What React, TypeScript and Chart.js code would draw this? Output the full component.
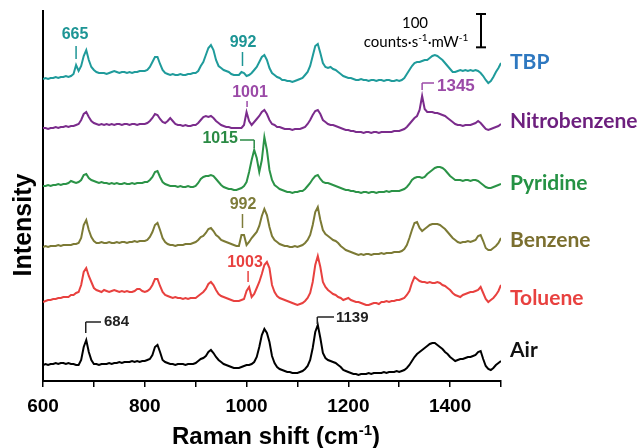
import React, { useEffect, useRef } from 'react';
import { Chart, registerables } from 'chart.js';

Chart.register(...registerables);

// Raman shift sampling grid (cm-1)
const WAVENUMBERS = [
  600, 605, 610, 615, 620, 625, 630, 635, 640, 645,
  650, 655, 660, 665, 670, 675, 680, 685, 690, 695,
  700, 705, 710, 715, 720, 725, 730, 735, 740, 745,
  750, 755, 760, 765, 770, 775, 780, 785, 790, 795,
  800, 805, 810, 815, 820, 825, 830, 835, 840, 845,
  850, 855, 860, 865, 870, 875, 880, 885, 890, 895,
  900, 905, 910, 915, 920, 925, 930, 935, 940, 945,
  950, 955, 960, 965, 970, 975, 980, 985, 990, 995,
  1000, 1005, 1010, 1015, 1020, 1025, 1030, 1035, 1040, 1045,
  1050, 1055, 1060, 1065, 1070, 1075, 1080, 1085, 1090, 1095,
  1100, 1105, 1110, 1115, 1120, 1125, 1130, 1135, 1140, 1145,
  1150, 1155, 1160, 1165, 1170, 1175, 1180, 1185, 1190, 1195,
  1200, 1205, 1210, 1215, 1220, 1225, 1230, 1235, 1240, 1245,
  1250, 1255, 1260, 1265, 1270, 1275, 1280, 1285, 1290, 1295,
  1300, 1305, 1310, 1315, 1320, 1325, 1330, 1335, 1340, 1345,
  1350, 1355, 1360, 1365, 1370, 1375, 1380, 1385, 1390, 1395,
  1400, 1405, 1410, 1415, 1420, 1425, 1430, 1435, 1440, 1445,
  1450, 1455, 1460, 1465, 1470, 1475, 1480, 1485, 1490, 1495,
  1500,
];

// Spectra, counts·s-1·mW-1 above each trace's own offset
const TBP = [
  3, 6, 3, 6, 6, 9, 6, 9, 9, 12,
  9, 12, 18, 45, 27, 42, 72, 90, 60, 39,
  30, 24, 21, 21, 21, 18, 21, 24, 27, 24,
  21, 24, 24, 21, 24, 21, 24, 24, 27, 27,
  27, 30, 39, 54, 69, 69, 48, 30, 21, 18,
  15, 18, 15, 15, 18, 15, 15, 18, 18, 21,
  21, 27, 42, 54, 75, 96, 105, 90, 60, 42,
  36, 30, 27, 24, 18, 15, 15, 15, 24, 21,
  12, 15, 21, 30, 39, 54, 69, 75, 60, 36,
  21, 15, 9, 6, 0, 0, -3, -3, -6, -3,
  0, 3, 6, 15, 24, 42, 72, 102, 108, 81,
  51, 39, 36, 39, 33, 30, 24, 18, 12, 9,
  6, 6, 3, 0, 0, 3, 0, 0, -3, 0,
  0, -3, 0, 0, -3, 0, 0, -3, -3, 0,
  -3, 0, 6, 18, 30, 42, 51, 54, 54, 57,
  60, 60, 66, 72, 75, 72, 66, 60, 51, 42,
  33, 24, 24, 27, 30, 27, 30, 27, 30, 27,
  30, 27, 21, 12, 0, -9, -3, 9, 24, 36,
  51,
];

const NITROBENZENE = [
  6, 6, 3, 6, 6, 9, 6, 9, 9, 12,
  9, 12, 12, 15, 18, 30, 48, 54, 39, 27,
  21, 18, 15, 18, 15, 18, 15, 18, 15, 18,
  18, 15, 18, 18, 15, 18, 18, 15, 18, 18,
  18, 21, 27, 36, 48, 45, 33, 24, 21, 27,
  36, 27, 18, 15, 15, 12, 15, 12, 12, 15,
  15, 21, 30, 39, 42, 39, 42, 36, 27, 21,
  15, 12, 9, 9, 6, 6, 6, 6, 6, 15,
  54, 27, 15, 24, 33, 42, 54, 60, 48, 30,
  18, 15, 9, 9, 6, 3, 3, 3, 0, 3,
  3, 3, 6, 9, 18, 30, 45, 57, 60, 48,
  30, 24, 18, 15, 15, 12, 9, 6, 3, 0,
  0, -3, -3, -6, -6, -6, -9, -6, -6, -9,
  -6, -6, -9, -6, -6, -6, -6, -6, -3, -3,
  -3, 0, 3, 9, 18, 27, 36, 42, 60, 102,
  63, 54, 54, 54, 51, 51, 48, 45, 42, 36,
  30, 24, 18, 15, 15, 12, 15, 15, 15, 18,
  21, 27, 21, 12, 3, 0, 3, 6, 9, 12,
  18,
];

const PYRIDINE = [
  12, 12, 15, 12, 15, 15, 18, 15, 18, 18,
  21, 27, 24, 21, 24, 30, 45, 48, 36, 30,
  27, 24, 21, 24, 21, 21, 18, 21, 18, 21,
  18, 18, 21, 18, 18, 21, 18, 21, 21, 21,
  24, 24, 30, 39, 54, 57, 39, 24, 18, 15,
  12, 12, 12, 9, 12, 9, 9, 12, 9, 9,
  12, 21, 33, 39, 42, 42, 45, 42, 33, 24,
  15, 9, 6, 3, 3, 0, 0, 3, 6, 12,
  24, 54, 90, 120, 96, 54, 90, 159, 120, 60,
  30, 15, 9, 3, 0, -3, -6, -6, -9, -6,
  -6, -3, -3, 3, 12, 21, 33, 42, 45, 33,
  24, 21, 21, 18, 15, 12, 9, 6, 3, 0,
  0, -3, -3, -6, -6, -9, -6, -6, -9, -6,
  -6, -9, -6, -6, -6, -3, -6, -3, -3, -3,
  -3, 0, 3, 9, 18, 30, 36, 39, 39, 36,
  39, 48, 54, 60, 66, 69, 69, 66, 60, 51,
  42, 36, 30, 30, 30, 27, 30, 30, 27, 30,
  30, 27, 21, 15, 9, 6, 6, 9, 12, 15,
  18,
];

const BENZENE = [
  9, 12, 9, 12, 12, 12, 15, 12, 15, 15,
  15, 15, 18, 18, 21, 36, 75, 90, 60, 39,
  27, 21, 21, 24, 21, 21, 24, 21, 21, 24,
  21, 24, 24, 21, 24, 24, 27, 24, 27, 27,
  27, 30, 39, 54, 75, 81, 60, 36, 24, 18,
  15, 15, 12, 15, 15, 15, 18, 18, 18, 21,
  24, 30, 39, 42, 51, 63, 66, 57, 45, 39,
  30, 27, 24, 21, 18, 15, 12, 12, 45, 45,
  15, 24, 36, 45, 54, 72, 102, 123, 105, 69,
  42, 30, 24, 18, 15, 12, 12, 9, 9, 12,
  9, 12, 15, 21, 30, 45, 75, 114, 129, 90,
  60, 48, 42, 36, 30, 27, 21, 12, 6, 0,
  -3, -6, -9, -12, -15, -12, -15, -12, -12, -15,
  -12, -12, -12, -9, -12, -9, -9, -9, -6, -6,
  -6, -3, 3, 15, 36, 60, 81, 84, 66, 57,
  63, 69, 75, 78, 78, 78, 75, 69, 63, 54,
  45, 36, 30, 24, 21, 24, 24, 27, 24, 27,
  30, 42, 45, 27, 6, 0, 0, 6, 12, 21,
  36,
];

const TOLUENE = [
  -6, -3, 0, 0, 3, 3, 6, 6, 9, 9,
  9, 15, 15, 21, 24, 45, 84, 96, 72, 54,
  36, 30, 27, 24, 30, 27, 24, 27, 30, 27,
  24, 27, 24, 27, 24, 24, 27, 33, 33, 27,
  24, 27, 33, 45, 63, 63, 42, 24, 15, 12,
  9, 6, 9, 6, 6, 3, 6, 3, 6, 6,
  6, 12, 18, 24, 33, 48, 54, 45, 30, 18,
  12, 9, 6, 3, 0, -3, -3, -3, 0, 3,
  27, 39, 9, 18, 36, 54, 78, 105, 114, 96,
  45, 24, 12, 6, 3, 0, -3, -6, -9, -12,
  -15, -12, -9, -3, 6, 21, 54, 105, 132, 99,
  54, 39, 30, 24, 18, 15, 9, 6, 0, 3,
  6, 0, -3, -6, -6, -9, -12, -15, -15, -12,
  -9, -9, -12, -6, -6, -3, -6, -3, -3, 0,
  0, 3, 6, 15, 27, 51, 69, 63, 57, 54,
  54, 51, 54, 51, 51, 54, 51, 45, 42, 36,
  30, 21, 15, 12, 9, 15, 18, 21, 24, 24,
  27, 30, 39, 21, 3, -6, 0, 6, 15, 27,
  45,
];

const AIR = [
  15, 18, 15, 18, 18, 21, 18, 21, 21, 18,
  21, 18, 18, 15, 15, 30, 69, 90, 54, 30,
  18, 18, 15, 18, 18, 18, 21, 18, 21, 21,
  24, 21, 24, 24, 24, 27, 24, 27, 24, 27,
  27, 30, 33, 45, 69, 75, 54, 30, 24, 21,
  18, 18, 15, 18, 18, 18, 15, 18, 18, 18,
  21, 27, 33, 36, 42, 54, 60, 51, 39, 30,
  24, 18, 15, 12, 9, 6, 6, 6, 9, 12,
  15, 15, 18, 24, 39, 69, 105, 123, 111, 84,
  42, 21, 9, 3, 0, -3, -6, -6, -9, -9,
  -9, -6, -3, 3, 12, 30, 66, 114, 135, 96,
  51, 36, 30, 27, 24, 21, 15, 9, 0, -3,
  -6, -9, -12, -12, -15, -12, -12, -12, -9, -12,
  -9, -9, -9, -9, -6, -9, -6, -6, -6, -3,
  -6, -3, 0, 6, 15, 27, 39, 48, 54, 60,
  66, 72, 78, 81, 81, 75, 69, 63, 54, 48,
  39, 33, 27, 30, 33, 33, 36, 39, 39, 42,
  45, 54, 57, 33, 12, 3, 0, 6, 15, 21,
  27,
];

const SERIES_NAMES = ['TBP', 'Nitrobenzene', 'Pyridine', 'Benzene', 'Toluene', 'Air'];
const SERIES_VALUES = [TBP, NITROBENZENE, PYRIDINE, BENZENE, TOLUENE, AIR];
const SERIES_OFFSETS = [903, 753, 573, 393, 243, 33];

const X_MIN = 600;
const X_MAX = 1500;
const X_TICK_STEP = 100;
const X_LABEL_STEP = 200;
const Y_MIN = 0;
const Y_MAX = 1110;
const SCALE_BAR_COUNTS = 100;

// ---- styles / layout ----
const LINE_COLORS = ['#1f9b9b', '#7b2c8c', '#2b9347', '#7c7a35', '#e8413f', '#000000'];
const NAME_COLORS = ['#2e78c0', '#6d1f7e', '#259244', '#7b6f2f', '#e8413f', '#111111'];
const NAME_Y = [62, 121, 183, 240, 298, 350];
const NAME_X = 510;

const SANS = '"Liberation Sans", Arial, sans-serif';
const CAL = 'Lato, "Liberation Sans", sans-serif';

type Note = {
  label: string;
  wn: number;
  color: string;
  kind: 'tick' | 'bracket';
  textX: number;
  textY: number;
  y1?: number;
  y2?: number;
  cornerY?: number;
  endY?: number;
  armX?: number;
  align?: CanvasTextAlign;
  size?: number;
};

const PEAK_NOTES: Note[] = [
  { label: '665', wn: 665, color: '#1d9595', kind: 'tick', textX: 75, textY: 35, y1: 46, y2: 59 },
  { label: '992', wn: 992, color: '#1d9595', kind: 'tick', textX: 243, textY: 43, y1: 52, y2: 66 },
  { label: '1001', wn: 1001, color: '#9b4aa7', kind: 'tick', textX: 250, textY: 93, y1: 101, y2: 107 },
  { label: '1015', wn: 1015, color: '#2a8a44', kind: 'bracket', textX: 238, textY: 139, cornerY: 140, endY: 148, armX: 240, align: 'right' },
  { label: '992', wn: 992, color: '#7e7c3a', kind: 'tick', textX: 243, textY: 205, y1: 214, y2: 228 },
  { label: '1003', wn: 1003, color: '#e8413f', kind: 'tick', textX: 245, textY: 263, y1: 271, y2: 282 },
  { label: '684', wn: 684, color: '#222222', kind: 'bracket', textX: 104, textY: 322, cornerY: 322, endY: 333, armX: 101, align: 'left', size: 15 },
  { label: '1139', wn: 1139, color: '#222222', kind: 'bracket', textX: 336, textY: 318, cornerY: 317, endY: 324, armX: 334, align: 'left', size: 15 },
  { label: '1345', wn: 1345, color: '#9b4aa7', kind: 'bracket', textX: 437, textY: 86, cornerY: 83, endY: 90, armX: 434, align: 'left', size: 17 },
];

type Part = { text: string; font: string; dy?: number };

function drawRich(ctx: CanvasRenderingContext2D, parts: Part[], x: number, y: number, align: 'left' | 'center' | 'right') {
  let total = 0;
  for (const p of parts) {
    ctx.font = p.font;
    total += ctx.measureText(p.text).width;
  }
  let cx = align === 'center' ? x - total / 2 : align === 'right' ? x - total : x;
  ctx.textAlign = 'left';
  for (const p of parts) {
    ctx.font = p.font;
    ctx.fillText(p.text, cx, y + (p.dy || 0));
    cx += ctx.measureText(p.text).width;
  }
}

function line(ctx: CanvasRenderingContext2D, x1: number, y1: number, x2: number, y2: number) {
  ctx.beginPath();
  ctx.moveTo(x1, y1);
  ctx.lineTo(x2, y2);
  ctx.stroke();
}

const overlayPlugin = {
  id: 'ramanOverlay',
  afterDraw(chart: any) {
    const ctx: CanvasRenderingContext2D = chart.ctx;
    const xs = chart.scales.x;
    const ys = chart.scales.y;

    // y-axis title
    ctx.save();
    ctx.fillStyle = '#000';
    ctx.font = `bold 25px ${SANS}`;
    ctx.translate(31, 225);
    ctx.rotate(-Math.PI / 2);
    ctx.textAlign = 'center';
    ctx.textBaseline = 'alphabetic';
    ctx.fillText('Intensity', 0, 0);
    ctx.restore();

    // x-axis title
    ctx.save();
    ctx.fillStyle = '#000';
    ctx.textBaseline = 'alphabetic';
    drawRich(ctx, [
      { text: 'Raman shift (cm', font: `bold 24px ${SANS}` },
      { text: '-1', font: `bold 15px ${SANS}`, dy: -9 },
      { text: ')', font: `bold 24px ${SANS}` },
    ], 276, 444, 'center');
    ctx.restore();

    // series names
    ctx.save();
    ctx.textAlign = 'left';
    ctx.textBaseline = 'middle';
    ctx.font = `bold 21px ${CAL}`;
    SERIES_NAMES.forEach((n, i) => {
      ctx.fillStyle = NAME_COLORS[i];
      ctx.fillText(n, NAME_X, NAME_Y[i]);
    });
    ctx.restore();

    // peak annotations
    ctx.save();
    ctx.lineWidth = 1.5;
    ctx.textBaseline = 'middle';
    for (const n of PEAK_NOTES) {
      const px = xs.getPixelForValue(n.wn);
      ctx.strokeStyle = n.color;
      ctx.fillStyle = n.color;
      ctx.font = `bold ${n.size || 16}px ${SANS}`;
      if (n.kind === 'tick') {
        line(ctx, px, n.y1!, px, n.y2!);
        ctx.textAlign = 'center';
        ctx.fillText(n.label, n.textX, n.textY);
      } else {
        line(ctx, px, n.endY!, px, n.cornerY!);
        line(ctx, px, n.cornerY!, n.armX!, n.cornerY!);
        ctx.textAlign = n.align || 'left';
        ctx.fillText(n.label, n.textX, n.textY);
      }
    }
    ctx.restore();

    // scale bar
    ctx.save();
    const barX = 481;
    const barTop = 14;
    const barH = ys.getPixelForValue(0) - ys.getPixelForValue(SCALE_BAR_COUNTS);
    ctx.strokeStyle = '#000';
    ctx.lineWidth = 2;
    line(ctx, barX, barTop, barX, barTop + barH);
    line(ctx, barX - 5, barTop, barX + 5, barTop);
    line(ctx, barX - 5, barTop + barH, barX + 5, barTop + barH);
    ctx.fillStyle = '#000';
    ctx.textBaseline = 'alphabetic';
    ctx.textAlign = 'center';
    ctx.font = `15px ${CAL}`;
    ctx.fillText(String(SCALE_BAR_COUNTS), 415, 28);
    drawRich(ctx, [
      { text: 'counts·s', font: `15px ${CAL}` },
      { text: '-1', font: `10px ${CAL}`, dy: -6 },
      { text: '·mW', font: `15px ${CAL}` },
      { text: '-1', font: `10px ${CAL}`, dy: -6 },
    ], 416, 47, 'center');
    ctx.restore();
  },
};

export default function App() {
  const canvasRef = useRef<HTMLCanvasElement | null>(null);

  useEffect(() => {
    const canvas = canvasRef.current;
    if (!canvas) return;
    const datasets = SERIES_NAMES.map((name, i) => ({
      label: name,
      data: WAVENUMBERS.map((x, j) => ({ x, y: SERIES_OFFSETS[i] + SERIES_VALUES[i][j] })),
      borderColor: LINE_COLORS[i],
      backgroundColor: LINE_COLORS[i],
      borderWidth: 2,
      pointRadius: 0,
      tension: 0,
      fill: false,
    }));

    const chart = new Chart(canvas, {
      type: 'line',
      data: { datasets },
      options: {
        animation: false,
        responsive: false,
        maintainAspectRatio: false,
        layout: { padding: { top: 11, right: 139, left: 0, bottom: 0 } },
        plugins: {
          legend: { display: false },
          tooltip: { enabled: false },
        },
        scales: {
          x: {
            type: 'linear',
            min: X_MIN,
            max: X_MAX,
            ticks: {
              stepSize: X_TICK_STEP,
              autoSkip: false,
              maxRotation: 0,
              color: '#000',
              padding: 8,
              font: { family: SANS, size: 19, weight: 'bold' },
              callback: (v: any) => (Number(v) % X_LABEL_STEP === 0 ? String(v) : ''),
            },
            grid: {
              display: true,
              drawOnChartArea: false,
              drawTicks: true,
              tickLength: 6,
              color: '#000',
              lineWidth: 1.5,
            },
            border: { display: true, color: '#000', width: 2 },
            afterFit: (s: any) => { s.height = 67; },
          },
          y: {
            type: 'linear',
            min: Y_MIN,
            max: Y_MAX,
            ticks: { display: false },
            grid: { display: false },
            border: { display: true, color: '#000', width: 2 },
            afterFit: (s: any) => { s.width = 43; },
          },
        },
      } as any,
      plugins: [overlayPlugin],
    });
    return () => chart.destroy();
  }, []);

  return (
    <div style={{ position: 'absolute', left: 0, top: 0, width: 640, height: 448, background: '#fff' }}>
      <canvas ref={canvasRef} width={640} height={448} style={{ display: 'block' }} />
    </div>
  );
}
